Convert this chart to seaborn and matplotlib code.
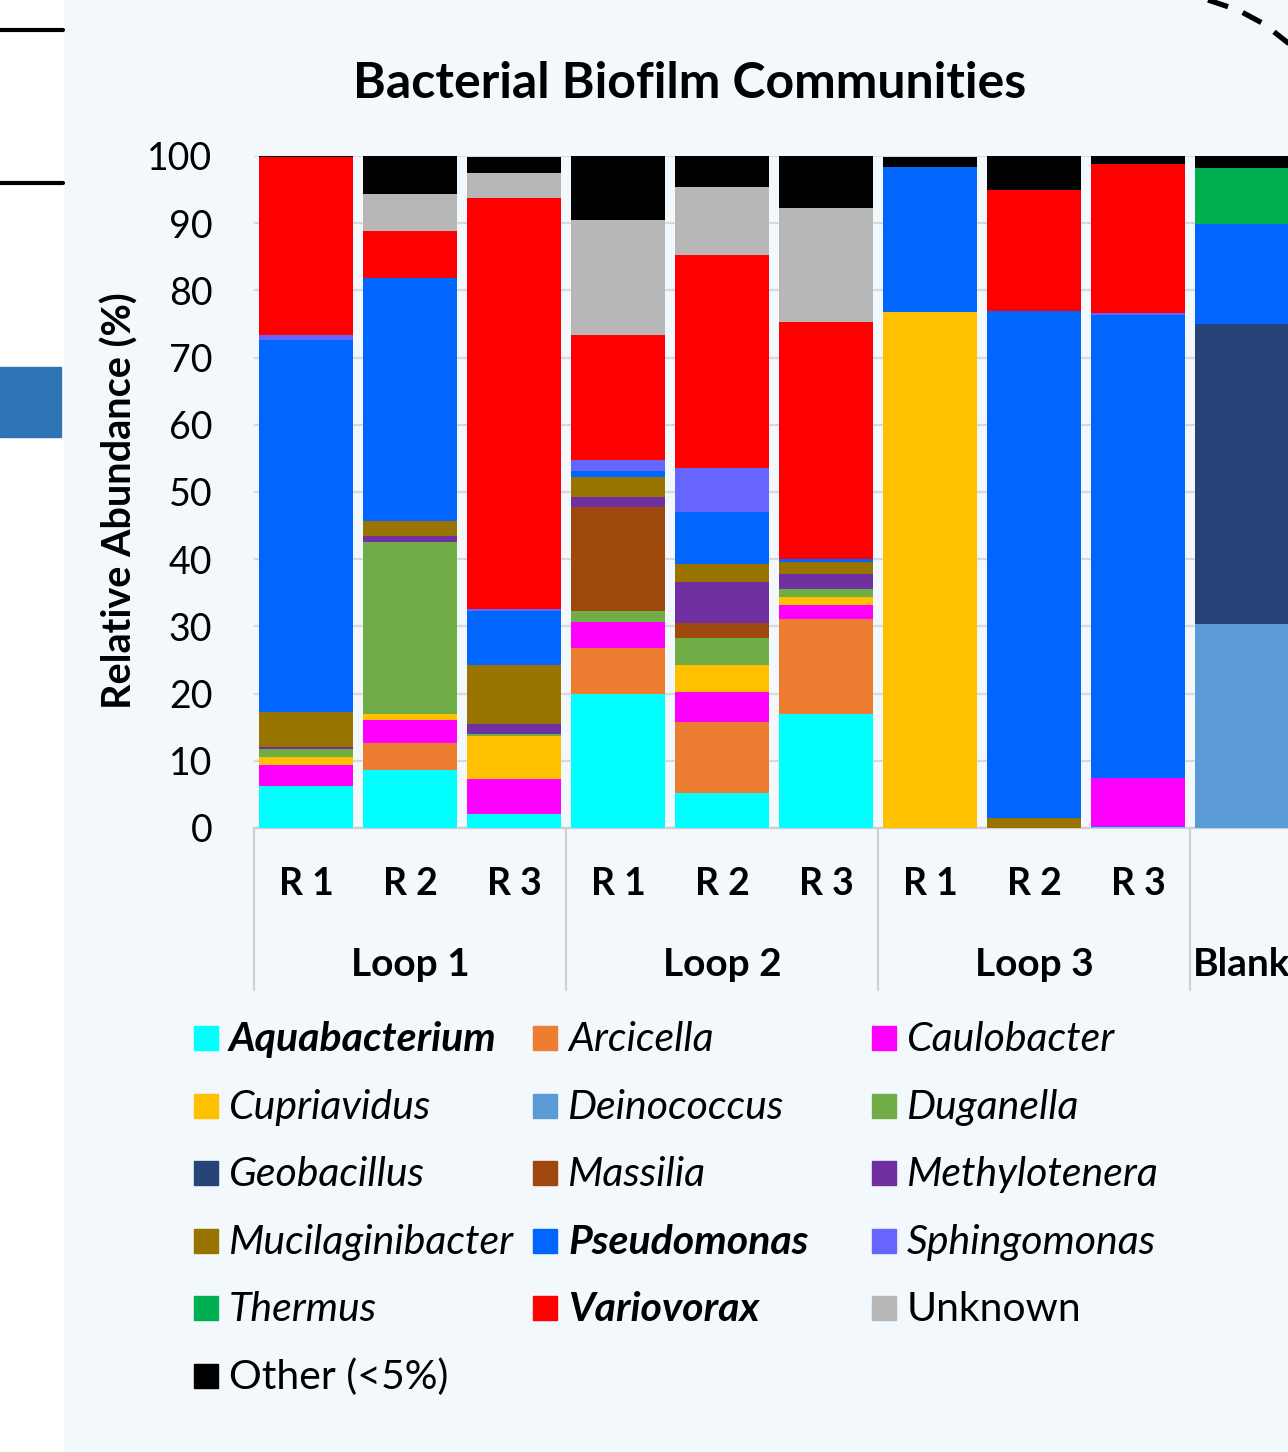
import numpy as np
import pandas as pd
import matplotlib.pyplot as plt
import matplotlib.patches as mpatches
import seaborn as sns

# samples (left to right) and their group labels
samples = ["L1 R1", "L1 R2", "L1 R3", "L2 R1", "L2 R2", "L2 R3", "L3 R1", "L3 R2", "L3 R3", "Blank"]
rep_labels = ["R 1", "R 2", "R 3", "R 1", "R 2", "R 3", "R 1", "R 2", "R 3", ""]
groups = ["Loop 1", "Loop 2", "Loop 3", "Blank"]
group_sizes = [3, 3, 3, 1]

# relative abundance (%) per genus, same order as samples
aquabacterium = [6.2, 8.7, 2.1, 20.0, 5.2, 16.9, 0, 0, 0.1, 0]
arcicella = [0, 3.9, 0, 6.8, 10.6, 14.2, 0, 0, 0, 0]
caulobacter = [3.2, 3.4, 5.2, 3.9, 4.5, 2.1, 0, 0, 7.3, 0]
cupriavidus = [1.1, 1.0, 6.4, 0, 4.0, 1.2, 76.8, 0, 0, 0]
deinococcus = [0, 0, 0, 0, 0, 0, 0, 0, 0, 30.4]
duganella = [1.2, 25.6, 0.3, 1.6, 3.9, 1.1, 0, 0, 0, 0]
geobacillus = [0, 0, 0, 0, 0, 0, 0, 0, 0, 44.6]
massilia = [0, 0, 0, 15.4, 2.3, 0, 0, 0, 0, 0]
methylotenera = [0.3, 0.8, 1.5, 1.6, 6.1, 2.3, 0, 0, 0, 0]
mucilaginibacter = [5.2, 2.3, 8.8, 2.9, 2.7, 1.8, 0, 1.5, 0, 0]
pseudomonas = [55.4, 36.1, 8.0, 0.9, 7.7, 0.4, 21.6, 75.4, 69.0, 14.9]
sphingomonas = [0.7, 0, 0.3, 1.7, 6.5, 0, 0, 0, 0.3, 0]
thermus = [0, 0, 0, 0, 0, 0, 0, 0, 0, 8.3]
variovorax = [26.5, 7.0, 61.2, 18.5, 31.8, 35.3, 0, 18.1, 22.1, 0]
unknown = [0, 5.5, 3.7, 17.2, 10.1, 17.0, 0, 0, 0, 0]
other = [0.2, 5.7, 2.4, 9.5, 4.6, 7.7, 1.5, 5.0, 1.2, 1.8]

genera = ["Aquabacterium", "Arcicella", "Caulobacter", "Cupriavidus", "Deinococcus",
          "Duganella", "Geobacillus", "Massilia", "Methylotenera", "Mucilaginibacter",
          "Pseudomonas", "Sphingomonas", "Thermus", "Variovorax", "Unknown", "Other (<5%)"]
values = [aquabacterium, arcicella, caulobacter, cupriavidus, deinococcus, duganella,
          geobacillus, massilia, methylotenera, mucilaginibacter, pseudomonas,
          sphingomonas, thermus, variovorax, unknown, other]
colors = ["#00FFFF", "#ED7D31", "#FF00FF", "#FFC000", "#5B9BD5", "#70AD47",
          "#264478", "#9E480E", "#7030A0", "#997300", "#0066FF",
          "#6666FF", "#00B050", "#FF0000", "#B7B7B7", "#000000"]
bold_names = ["Aquabacterium", "Pseudomonas", "Variovorax"]
plain_names = ["Unknown", "Other (<5%)"]

sns.set_style("white")
plt.rcParams['font.family'] = ['Lato', 'DejaVu Sans']
plt.rcParams['text.color'] = 'black'
plt.rcParams['ytick.labelcolor'] = 'black'
bg = "#F3F8FC"

W, H = 1288, 1452
fig = plt.figure(figsize=(W / 100, H / 100), dpi=100, facecolor=bg)

def px(x, y):
    return x / W, 1 - y / H

# left white strip with its bits of the neighbouring slide
fig.add_artist(mpatches.Rectangle((0, 0), 63 / W, 1, transform=fig.transFigure, color="white", zorder=0))
for yy in [30, 183]:
    fig.add_artist(plt.Line2D([0, 63 / W], [1 - yy / H] * 2, color="black", lw=3, transform=fig.transFigure))
fig.add_artist(mpatches.Rectangle(px(0, 437), 61 / W, 70 / H, transform=fig.transFigure, color="#2E75B6"))
cx = np.array([1208, 1238, 1264, 1292])
cy = np.array([0, 10, 24, 46])
fig.add_artist(plt.Line2D(cx / W, 1 - cy / H, color="black", lw=3.8, ls=(0, (4, 3)),
                          transform=fig.transFigure))

# axes: x range -0.5..9.5 runs past the right edge like the original crop
ax = fig.add_axes([254 / W, (H - 828) / H, 1040 / W, 672 / H])
ax.set_facecolor("none")

df = pd.DataFrame(dict(zip(genera, values)), index=samples)
bottom = np.zeros(len(samples))
for g, c in zip(genera, colors):
    sns.barplot(x=samples, y=df[g].values, color=c, width=0.91, bottom=bottom,
                ax=ax, linewidth=0, saturation=1, zorder=3)
    bottom += df[g].values

ax.set_xlim(-0.5, len(samples) - 0.5)
ax.set_ylim(0, 100)
ax.set_yticks(range(0, 101, 10))
ax.yaxis.grid(True, color="#D9D9D9", lw=1.6, zorder=0)
ax.set_axisbelow(True)
for s in ["top", "right", "left"]:
    ax.spines[s].set_visible(False)
ax.spines["bottom"].set_color("#D0D0D0")
ax.spines["bottom"].set_linewidth(1.6)
ax.tick_params(axis="y", length=0, pad=30, labelsize=27, labelcolor="black")
ax.set_xticks(range(len(samples)))
ax.set_xticklabels([])
ax.tick_params(axis="x", length=0)
ax.set_xlabel("")
ax.set_ylabel("")

# two-level category axis
trans = ax.get_xaxis_transform()
for i, lab in enumerate(rep_labels):
    ax.text(i, -56 / 672, lab, transform=trans, ha="center", va="center",
            fontsize=27, fontweight="bold", color="black")
start = 0
edges = [-0.5]
for gname, n in zip(groups, group_sizes):
    ax.text(start + (n - 1) / 2, -137 / 672, gname, transform=trans, ha="center",
            va="center", fontsize=28, fontweight="bold", color="black")
    start += n
    edges.append(start - 0.5)
for e in edges[:-1]:
    ax.plot([e, e], [0, -162 / 672], transform=trans, color="#D0D0D0", lw=1.6, clip_on=False)

fig.text(*px(690, 84), "Bacterial Biofilm Communities", ha="center", va="center",
         fontsize=36, fontweight="bold", color="black")
fig.text(*px(120, 501), "Relative Abundance (%)", ha="center", va="center",
         rotation=90, fontsize=28.5, fontweight="bold", color="black")

# legend, three equal columns like the original
for k, (g, c) in enumerate(zip(genera, colors)):
    r, col = divmod(k, 3)
    x0 = 194 + 339 * col
    yc = 1038 + 67.6 * r
    fig.add_artist(mpatches.Rectangle(px(x0, yc + 12), 24 / W, 24 / H,
                                      transform=fig.transFigure, color=c))
    style = "normal" if g in plain_names else "italic"
    weight = "bold" if g in bold_names else "normal"
    fig.text(*px(x0 + 35, yc + 13), g, ha="left", va="baseline", fontsize=29.5,
             fontstyle=style, fontweight=weight, color="black")

fig.savefig("out.png", dpi=100, facecolor=bg)
